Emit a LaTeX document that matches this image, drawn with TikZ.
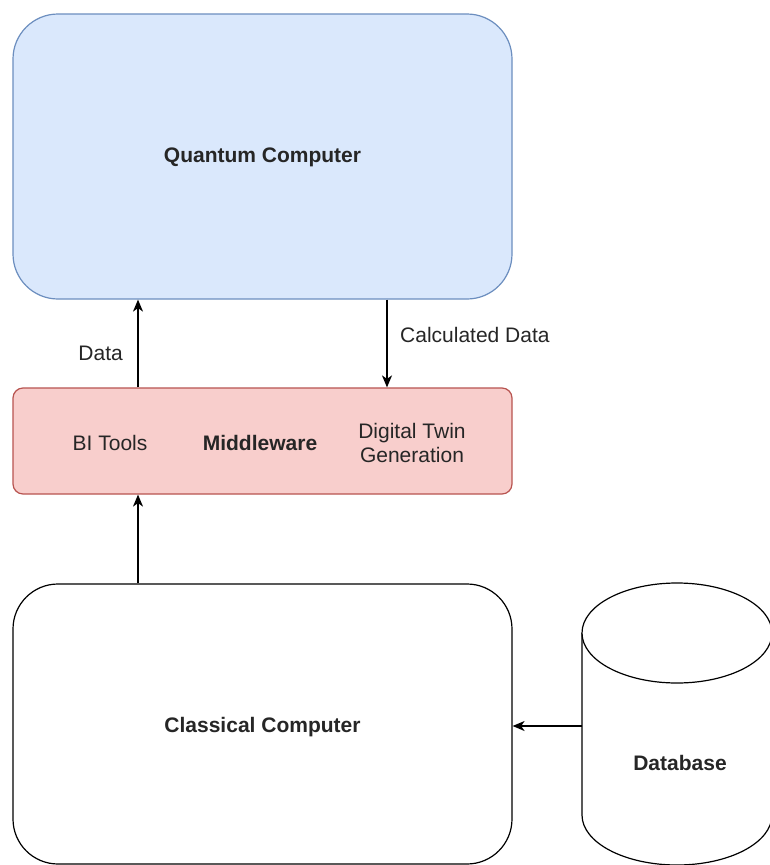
\documentclass[tikz,border=0pt]{standalone}
\usepackage{fontspec}
\setmainfont{Liberation Sans}
\usetikzlibrary{arrows.meta}
\definecolor{qfill}{HTML}{DAE8FC}
\definecolor{qline}{HTML}{6C8EBF}
\definecolor{mfill}{HTML}{F8CECC}
\definecolor{mline}{HTML}{B85450}
\definecolor{ink}{HTML}{262626}
\tikzset{
  box/.style={draw, line width=1.2pt, rounded corners=#1, inner sep=0pt},
  lbl/.style={font=\fontsize{21}{23.5}\selectfont, text=ink, align=center, inner sep=0pt},
  blbl/.style={lbl, font=\bfseries\fontsize{21}{23.5}\selectfont},
  conn/.style={line width=1.4pt, -{Stealth[length=12pt,width=10pt,inset=3.5pt]}},
}
\begin{document}
\begin{tikzpicture}[x=1pt,y=-1pt]
\useasboundingbox (0,0) rectangle (770,865);
\fill[white] (0,0) rectangle (770,865);

% main blocks
\node[box=45pt, draw=qline, fill=qfill, minimum width=499pt, minimum height=285pt] (qc) at (262.5,156.5) {};
\node[box=10pt, draw=mline, fill=mfill, minimum width=499pt, minimum height=106pt] (mw) at (262.5,441) {};
\node[box=45pt, draw=black, fill=white, minimum width=499pt, minimum height=280pt] (cc) at (262.5,724) {};

% database cylinder
\draw[line width=1.2pt, fill=white] (582,633) -- (582,815) arc[start angle=180, end angle=360, x radius=95, y radius=-50] -- (772,633);
\draw[line width=1.2pt, fill=white] (677,633) ellipse[x radius=95, y radius=50];
\coordinate (dbl) at (582,726);

% texts
\node[blbl] (qct) at (262.5,157) {Quantum Computer};
\node[blbl] (cct) at (262.5,727) {Classical Computer};
\node[blbl] (dbt) at (680,763) {Database};
\node[lbl] (bi) at (110,443) {BI Tools};
\node[blbl] (mwt) at (260,443) {Middleware};
\node[lbl] (dt) at (412,443) {Digital Twin\\Generation};
\node[lbl, anchor=east] (dlab) at (123,353) {Data};
\node[lbl, anchor=west] (clab) at (400,335) {Calculated Data};

% connectors
\draw[conn] (mw.north -| 138,0) -- (qc.south -| 138,0);
\draw[conn] (qc.south -| 387,0) -- (mw.north -| 387,0);
\draw[conn] (cc.north -| 138,0) -- (mw.south -| 138,0);
\draw[conn] (dbl) -- (cc.east |- dbl);
\end{tikzpicture}
\end{document}
